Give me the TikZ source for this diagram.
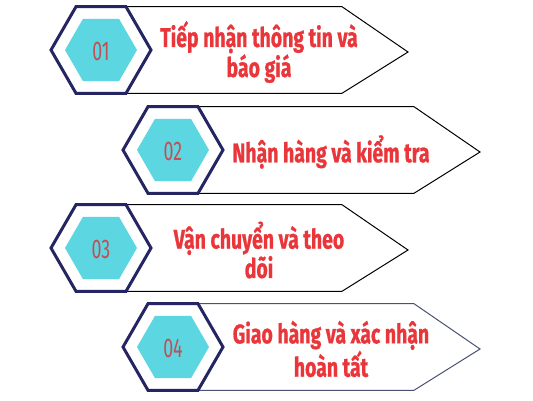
\documentclass[tikz,border=0pt]{standalone}
\usepackage{fontspec}
\setmainfont{Fira Sans}
\newfontfamily\condfont{Fira Sans}[FakeStretch=0.66]
\newfontfamily\headfont{Fira Sans}[FakeStretch=0.72, BoldFeatures={FakeBold=0.8}]
\definecolor{navy}{HTML}{252563}
\definecolor{hexcyan}{HTML}{5CD6E0}
\definecolor{numred}{HTML}{C44E55}
\definecolor{txtred}{HTML}{E8363B}
\definecolor{slate}{HTML}{4A5272}
\tikzset{
  arrowbox/.style={draw=black, line width=1pt, fill=white, line join=miter},
  hexouter/.style={draw=navy, line width=3pt, fill=white, line join=miter},
  hexinner/.style={fill=hexcyan},
  numlabel/.style={text=numred, font=\condfont\fontsize{27}{27}\selectfont, inner sep=0pt},
  steplabel/.style={text=txtred, font=\headfont\bfseries\fontsize{27}{27.5}\selectfont, align=center, inner sep=0pt}
}
\newcommand\drawrow[6]{%
  % #1 cx, #2 cy, #3 number, #4 text, #5 line colour, #6 name
  \draw[arrowbox, draw=#5] (#1+25,#2-43.3) coordinate (#6tl) -- (#1+241,#2-43.3) coordinate (#6te)
     -- (#1+307,#2+2) coordinate (#6tip) -- (#1+241,#2+43.3) coordinate (#6be) -- (#1+25,#2+43.3) coordinate (#6bl);
  \draw[hexouter] (#1-50,#2) -- (#1-25,#2-43.3) -- (#1+25,#2-43.3) -- (#1+50,#2) -- (#1+25,#2+43.3) -- (#1-25,#2+43.3) -- cycle;
  \fill[hexinner] (#1-36,#2) -- (#1-18,#2-31.2) -- (#1+18,#2-31.2) -- (#1+36,#2) -- (#1+18,#2+31.2) -- (#1-18,#2+31.2) -- cycle;
  \node[numlabel] (#6num) at (#1,#2+1) {#3};
  \node[steplabel] (#6txt) at (#1+158,#2+2) {#4};
}
\begin{document}
\begin{tikzpicture}[x=1pt,y=-1pt]
\useasboundingbox (0,0) rectangle (533,400);
\fill[white] (0,0) rectangle (533,400);
\drawrow{101}{50}{01}{Tiếp nhận thông tin và\\báo giá}{black}{r1}
\drawrow{173}{150}{02}{Nhận hàng và kiểm tra}{black}{r2}
\drawrow{101}{248}{03}{Vận chuyển và theo\\dõi}{black}{r3}
\drawrow{173}{347}{04}{Giao hàng và xác nhận\\hoàn tất}{slate}{r4}
\end{tikzpicture}
\end{document}
